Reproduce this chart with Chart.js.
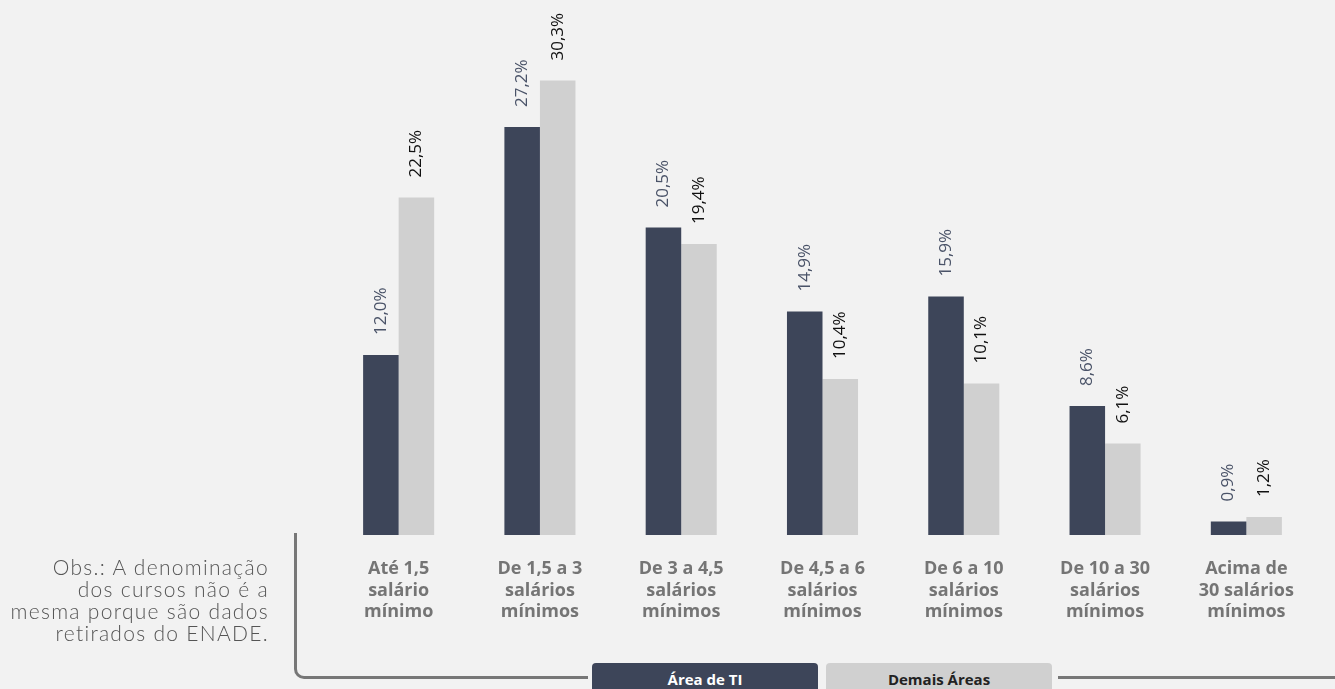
<!DOCTYPE html>
<html lang="pt">
<head>
    <meta charset="UTF-8">
    <title>Faixa salarial</title>
    <script src="https://cdn.jsdelivr.net/npm/chart.js"></script>
    <style>
        html, body { margin: 0; padding: 0; background: #f2f2f2; }
        .wrap { position: relative; width: 1335px; height: 689px; overflow: hidden; }
        canvas { position: absolute; left: 0; top: 0; }
        .obs {
            position: absolute; right: 1066px; top: 556px; width: 330px;
            text-align: right; font-family: Lato, sans-serif; font-weight: 300;
            font-size: 21px; letter-spacing: 1.3px; line-height: 22px; color: #555;
        }
        .bracket {
            position: absolute; left: 294px; top: 533px; width: 291px; height: 143px;
            border-left: 3px solid #777; border-bottom: 3px solid #777;
            border-bottom-left-radius: 10px;
        }
        .rline { position: absolute; left: 1058px; top: 676px; width: 277px; height: 3px; background: #777; }
        .leg {
            position: absolute; top: 663px; width: 226px; height: 33px; border-radius: 4px;
            font-family: "Open Sans", sans-serif; font-weight: 700; font-size: 15px;
            text-align: center; line-height: 33px;
        }
    </style>
</head>
<body>
<div class="wrap">
    <canvas id="chart" width="1335" height="689"></canvas>
    <div class="obs">Obs.: A denominação<br>dos cursos não é a<br>mesma porque são dados<br>retirados do ENADE.</div>
    <div class="bracket"></div>
    <div class="rline"></div>
    <div class="leg" style="left:592px; background:#3d4559; color:#fff;">Área de TI</div>
    <div class="leg" style="left:826px; background:#d0d0d0; color:#222;">Demais Áreas</div>
</div>
<script>
    const categories = [
        ['Até 1,5', 'salário', 'mínimo'],
        ['De 1,5 a 3', 'salários', 'mínimos'],
        ['De 3 a 4,5', 'salários', 'mínimos'],
        ['De 4,5 a 6', 'salários', 'mínimos'],
        ['De 6 a 10', 'salários', 'mínimos'],
        ['De 10 a 30', 'salários', 'mínimos'],
        ['Acima de', '30 salários', 'mínimos']
    ];
    const areaTI = [12.0, 27.2, 20.5, 14.9, 15.9, 8.6, 0.9];
    const demaisAreas = [22.5, 30.3, 19.4, 10.4, 10.1, 6.1, 1.2];

    const labelColors = ['#4a5368', '#111'];

    // rotated value labels above each bar
    const valueLabels = {
        id: 'valueLabels',
        afterDatasetsDraw(chart) {
            const ctx = chart.ctx;
            ctx.save();
            ctx.font = '17px "Open Sans", sans-serif';
            ctx.textAlign = 'left';
            ctx.textBaseline = 'middle';
            chart.data.datasets.forEach((ds, i) => {
                chart.getDatasetMeta(i).data.forEach((bar, j) => {
                    const txt = ds.data[j].toFixed(1).replace('.', ',') + '%';
                    ctx.save();
                    ctx.translate(bar.x, bar.y - 20);
                    ctx.rotate(-Math.PI / 2);
                    ctx.fillStyle = labelColors[i];
                    ctx.fillText(txt, 0, 0);
                    ctx.restore();
                });
            });
            ctx.restore();
        }
    };

    new Chart(document.getElementById('chart'), {
        type: 'bar',
        data: {
            labels: categories,
            datasets: [
                { label: 'Área de TI', data: areaTI, backgroundColor: '#3d4559' },
                { label: 'Demais Áreas', data: demaisAreas, backgroundColor: '#d0d0d0' }
            ]
        },
        options: {
            responsive: false,
            animation: false,
            categoryPercentage: 0.503,
            barPercentage: 1.0,
            layout: { padding: { left: 328, right: 18, top: 10, bottom: 0 } },
            plugins: { legend: { display: false }, tooltip: { enabled: false } },
            scales: {
                x: {
                    grid: { display: false },
                    border: { display: false },
                    ticks: {
                        color: '#757575',
                        font: { family: '"Open Sans", sans-serif', weight: 'bold', size: 18, lineHeight: 1.2 },
                        padding: 15,
                        maxRotation: 0
                    },
                    afterFit(scale) { scale.height = 154; }
                },
                y: { display: false, min: 0, max: 35 }
            }
        },
        plugins: [valueLabels]
    });
</script>
</body>
</html>
